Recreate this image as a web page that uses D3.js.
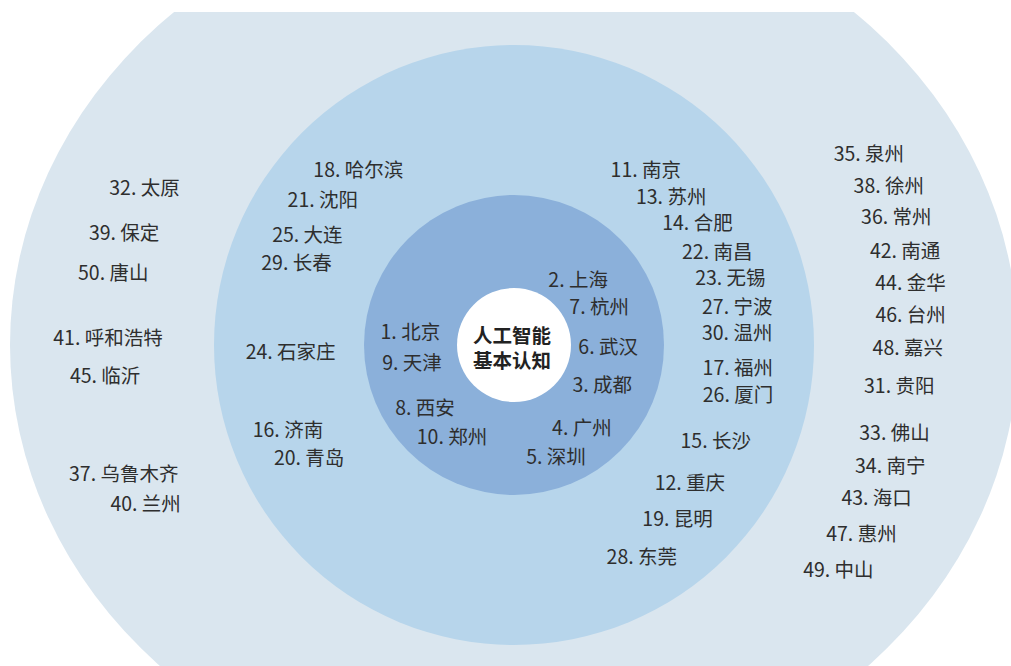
<!DOCTYPE html>
<html>
<head>
<meta charset="utf-8">
<script src="https://cdn.jsdelivr.net/npm/d3@7/dist/d3.min.js"></script>
<style>
    body { margin: 0; background: #fff; }
    svg text { font-family: "Noto Sans CJK SC", "Noto Sans", sans-serif; }
</style>
</head>
<body>
<div id="chart"></div>
<script>
// city ranking, rank = index + 1
const cities = [
    '北京', '上海', '成都', '广州', '深圳', '武汉', '杭州', '西安', '天津', '郑州',
    '南京', '重庆', '苏州', '合肥', '长沙', '济南', '福州', '哈尔滨', '昆明', '青岛',
    '沈阳', '南昌', '无锡', '石家庄', '大连', '厦门', '宁波', '东莞', '长春', '温州',
    '贵阳', '太原', '佛山', '南宁', '泉州', '常州', '乌鲁木齐', '徐州', '保定', '兰州',
    '呼和浩特', '南通', '海口', '金华', '临沂', '台州', '惠州', '嘉兴', '中山', '唐山'
];

// bearing of each label, degrees clockwise from top
const angles = [
    277.1, 44.6, 114.4, 140.7, 159.4, 91.2, 65.9, 234.7, 260.0, 214.0,
    37.0, 128.1, 46.7, 56.3, 115.5, 249.4, 95.9, 318.3, 136.7, 241.1,
    307.2, 65.4, 72.8, 268.2, 298.0, 102.6, 80.3, 148.9, 290.7, 86.9,
    96.5, 294.5, 103.8, 109.0, 59.9, 70.3, 250.4, 65.4, 287.2, 245.1,
    271.1, 75.5, 114.3, 80.5, 265.4, 85.4, 120.2, 90.5, 126.6, 280.9
];

// radial value in ring units (0-1 tier 1, 1-2 tier 2, 2-3 tier 3)
const radial = [
    0.51, 0.37, 0.43, 0.54, 0.67, 0.40, 0.39, 0.56, 0.50, 0.58,
    1.46, 1.49, 1.44, 1.47, 1.49, 1.61, 1.50, 1.56, 1.59, 1.56,
    1.60, 1.49, 1.51, 1.49, 1.56, 1.53, 1.51, 1.65, 1.55, 1.49,
    2.43, 2.52, 2.45, 2.48, 2.54, 2.52, 2.56, 2.55, 2.53, 2.52,
    2.52, 2.51, 2.48, 2.50, 2.54, 2.48, 2.50, 2.46, 2.51, 2.53
];

const ringEdges   = [3, 2, 1, 0];
const centerTitle = ['人工智能', '基本认知'];

const WIDTH   = 1011;
const HEIGHT  = 666;
const CX      = 514;
const CY      = 345;
const TOP     = 12;

const RING_COLORS = ['#dae6ef', '#b7d5eb', '#8bb0da', '#ffffff'];

const rx = d3.scaleLinear().domain([0, 1, 2, 3]).range([57, 150, 300, 504]);
const ry = d3.scaleLinear().domain([0, 1, 2, 3]).range([57, 150, 300, 451]);
const angle = d3.scaleLinear().domain([0, 360]).range([0, 2 * Math.PI]);

const svg = d3.select('#chart')
    .append('svg')
    .attr('width', WIDTH)
    .attr('height', HEIGHT);

svg.append('clipPath')
    .attr('id', 'clip')
    .append('rect')
    .attr('x', 0)
    .attr('y', TOP)
    .attr('width', WIDTH)
    .attr('height', HEIGHT - TOP);

const g = svg.append('g').attr('clip-path', 'url(#clip)');

// rings, largest first
g.selectAll('ellipse')
    .data(ringEdges)
    .join('ellipse')
    .attr('cx', CX)
    .attr('cy', CY)
    .attr('rx', d => rx(d))
    .attr('ry', d => ry(d))
    .attr('fill', (d, i) => RING_COLORS[i]);

const labels = cities.map((city, i) => ({
    text: `${i + 1}. ${city}`,
    a: angle(angles[i]),
    v: radial[i]
}));

g.selectAll('text.city')
    .data(labels)
    .join('text')
    .attr('class', 'city')
    .attr('x', d => CX + rx(d.v) * Math.sin(d.a))
    .attr('y', d => CY - ry(d.v) * Math.cos(d.a) - 1.5)
    .attr('text-anchor', 'middle')
    .attr('dominant-baseline', 'central')
    .attr('font-size', 19.5)
    .attr('fill', '#2e2e2e')
    .text(d => d.text);

// center title
g.selectAll('text.title')
    .data(centerTitle)
    .join('text')
    .attr('class', 'title')
    .attr('x', CX - 2)
    .attr('y', (d, i) => CY - 11 + i * 25)
    .attr('text-anchor', 'middle')
    .attr('dominant-baseline', 'central')
    .attr('font-size', 19.5)
    .attr('font-weight', 'bold')
    .attr('fill', '#222')
    .text(d => d);
</script>
</body>
</html>
